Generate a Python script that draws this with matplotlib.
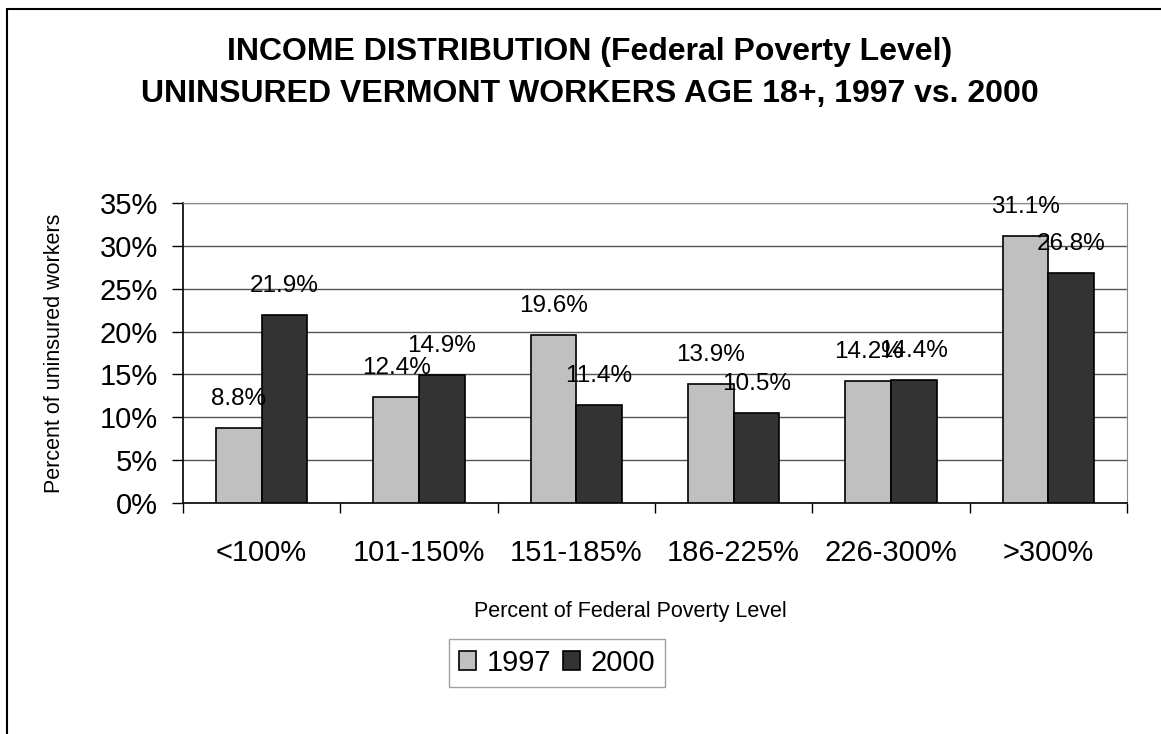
import numpy as np
import matplotlib
matplotlib.use("Agg")
from matplotlib import pyplot as plt
from matplotlib.patches import Rectangle

plt.rcParams['font.family'] = ['Liberation Sans', 'DejaVu Sans']

categories = ['<100%', '101-150%', '151-185%', '186-225%', '226-300%', '>300%']
values_1997 = [8.8, 12.4, 19.6, 13.9, 14.2, 31.1]
values_2000 = [21.9, 14.9, 11.4, 10.5, 14.4, 26.8]
years = ['1997', '2000']
y_ticks = [0, 5, 10, 15, 20, 25, 30, 35]

W, H = 1161, 734
fig = plt.figure(figsize=(W / 100, H / 100), dpi=100)
# outer frame of the chart object
fig.patches.append(Rectangle((7 / W, -0.1), 1.2, 1 - 9 / H + 0.1,
                             transform=fig.transFigure, fill=False,
                             edgecolor='black', linewidth=1.5))

ax = fig.add_axes([183 / W, 1 - 503 / H, (1127 - 183) / W, (503 - 203) / H])

x = np.arange(len(categories))
w = 0.29
bars_a = ax.bar(x - w / 2, values_1997, width=w, color='#c0c0c0',
                edgecolor='black', linewidth=1.2, label=years[0], zorder=3)
bars_b = ax.bar(x + w / 2, values_2000, width=w, color='#333333',
                edgecolor='black', linewidth=1.2, label=years[1], zorder=3)

for bars, vals in ((bars_a, values_1997), (bars_b, values_2000)):
    for b, v in zip(bars, vals):
        ax.annotate(f'{v}%', (b.get_x() + b.get_width() / 2, v),
                    xytext=(0, 18), textcoords='offset pixels',
                    ha='center', va='bottom', fontsize=17.5, zorder=4)

ax.set_xlim(-0.5, len(categories) - 0.5)
ax.set_ylim(0, 35)
ax.set_yticks(y_ticks)
ax.set_yticklabels([f'{t}%' for t in y_ticks], fontsize=21)
ax.set_xticks(x)
ax.set_xticklabels(categories, fontsize=21)
ax.set_xticks(np.arange(-0.5, len(categories)), minor=True)
ax.tick_params(axis='x', which='major', length=0, pad=26)
ax.tick_params(axis='x', which='minor', length=7.5, width=1, direction='out')
ax.tick_params(axis='y', length=8, width=1, direction='out', pad=10)

ax.yaxis.grid(True, color='#555555', linewidth=1, zorder=0)
ax.set_axisbelow(True)
for side in ('top', 'right'):
    ax.spines[side].set_color('#888888')
for side in ('left', 'bottom'):
    ax.spines[side].set_color('black')
    ax.spines[side].set_linewidth(1.2)

ax.set_ylabel('Percent of uninsured workers', fontsize=15.5)
ax.yaxis.set_label_coords(-(183 - 55) / (1127 - 183), 0.5)
ax.yaxis.label.set_va('center')
ax.set_xlabel('Percent of Federal Poverty Level', fontsize=15.5)
ax.xaxis.set_label_coords((630 - 183) / (1127 - 183), -(612 - 503) / (503 - 203))
ax.xaxis.label.set_va('center')

fig.text(590 / W, 1 - 52 / H, 'INCOME DISTRIBUTION (Federal Poverty Level)',
         ha='center', va='center', fontsize=23, fontweight='bold')
fig.text(590 / W, 1 - 94 / H, 'UNINSURED VERMONT WORKERS AGE 18+, 1997 vs. 2000',
         ha='center', va='center', fontsize=23, fontweight='bold')

leg = fig.legend(handles=[bars_a, bars_b], labels=years, loc='center',
                 bbox_to_anchor=(557 / W, 1 - 663 / H), ncol=2,
                 fontsize=21, frameon=True, fancybox=False,
                 handlelength=0.6, handleheight=0.6, handletextpad=0.35,
                 columnspacing=0.4, borderpad=0.35)
leg.get_frame().set_edgecolor('#888888')
leg.get_frame().set_linewidth(1)

fig.savefig('out.png', dpi=100)
